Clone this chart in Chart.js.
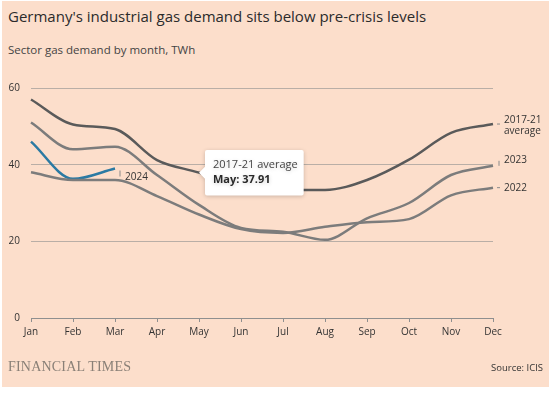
<!DOCTYPE html>
<html>
<head>
<meta charset="utf-8">
<script src="https://cdn.jsdelivr.net/npm/chart.js@4.4.1/dist/chart.umd.min.js"></script>
<style>
  html, body { margin: 0; padding: 0; }
  body {
    width: 554px; height: 393px; overflow: hidden;
    background: #ffffff; position: relative;
    font-family: "Open Sans", "Noto Sans", sans-serif; color: #333;
  }
  #panel { position: absolute; left: 2px; top: 1px; width: 547px; height: 386px; background: #fcdecb; }
  #title { position: absolute; left: 8px; top: 6px; font-size: 15px; color: #2b2b2b; white-space: nowrap; }
  #subtitle { position: absolute; left: 8px; top: 42px; font-size: 11.5px; color: #444; white-space: nowrap; }
  #brand { position: absolute; left: 8px; top: 359px; font-family: "Liberation Serif", serif; font-size: 14px; color: #8a8077; letter-spacing: 0.2px; }
  #source { position: absolute; right: 11px; top: 361px; font-size: 9.5px; color: #333; }
  #wrap { position: absolute; left: 0; top: 0; width: 554px; height: 393px; }
</style>
</head>
<body>
<div id="panel"></div>
<div id="title">Germany's industrial gas demand sits below pre-crisis levels</div>
<div id="subtitle">Sector gas demand by month, TWh</div>
<div id="wrap"><canvas id="gasChart" width="554" height="393"></canvas></div>
<div id="brand">FINANCIAL TIMES</div>
<div id="source">Source: ICIS</div>

<script>
// Dados (TWh por mês)
const months = ['Jan', 'Feb', 'Mar', 'Apr', 'May', 'Jun', 'Jul', 'Aug', 'Sep', 'Oct', 'Nov', 'Dec'];
const avg1721 = [57, 50.5, 49.3, 41.2, 37.91, 34, 33.4, 33.4, 36, 41.3, 48.3, 50.6];
const year2022 = [38, 36, 36, 31.8, 27, 23.2, 22.2, 23.8, 25, 25.8, 32, 34];
const year2023 = [51, 44, 44.7, 37.3, 29.5, 23.5, 22.5, 20.4, 26, 30, 37.3, 39.7];
const year2024 = [46, 36.3, 39];
const yTicks = [0, 20, 40, 60];

// Rótulos no fim das linhas
const endLabels = {
    id: 'endLabels',
    afterDatasetsDraw(chart) {
        const ctx = chart.ctx;
        const y = chart.scales.y;
        const x = chart.scales.x;
        ctx.save();
        ctx.font = '10px "Open Sans", sans-serif';
        ctx.fillStyle = '#333';
        ctx.strokeStyle = '#8a8a8a';
        ctx.lineWidth = 1;
        ctx.textBaseline = 'middle';
        const xr = x.getPixelForValue(11);
        const items = [
            { v: avg1721[11], lines: ['2017-21', 'average'], dy: -4 },
            { v: year2023[11], lines: ['2023'], dy: -6 },
            { v: year2022[11], lines: ['2022'], dy: 0 }
        ];
        items.forEach(it => {
            const py = y.getPixelForValue(it.v);
            ctx.beginPath();
            if (it.dy < -5) {
                ctx.moveTo(xr + 6, py);
                ctx.lineTo(xr + 6, py - 5);
            } else {
                ctx.moveTo(xr + 4, py);
                ctx.lineTo(xr + 7, py);
            }
            ctx.stroke();
            it.lines.forEach((t, i) => ctx.fillText(t, xr + 11, py + it.dy + i * 11));
        });
        // rótulo 2024
        const x24 = x.getPixelForValue(2);
        const y24 = y.getPixelForValue(year2024[2]);
        ctx.beginPath();
        ctx.moveTo(x24 + 5, y24 + 2);
        ctx.lineTo(x24 + 5, y24 + 8);
        ctx.stroke();
        ctx.fillText('2024', x24 + 10, y24 + 9);
        ctx.restore();
    },
    beforeTooltipDraw(chart) {
        const ctx = chart.ctx;
        ctx.save();
        ctx.shadowColor = 'rgba(0,0,0,0.2)';
        ctx.shadowBlur = 4;
        ctx.shadowOffsetY = 1;
    },
    afterTooltipDraw(chart) {
        chart.ctx.restore();
    }
};

const chart = new Chart(document.getElementById('gasChart'), {
    type: 'line',
    data: {
        labels: months,
        datasets: [
            { label: '2017-21 average', data: avg1721, borderColor: '#5a5a5a' },
            { label: '2022', data: year2022, borderColor: '#7c7c7c' },
            { label: '2023', data: year2023, borderColor: '#7c7c7c' },
            { label: '2024', data: year2024, borderColor: '#2b7aa3' }
        ].map(d => Object.assign(d, {
            borderWidth: 2.5,
            pointRadius: 0,
            pointHoverRadius: 0,
            tension: 0.4,
            cubicInterpolationMode: 'monotone',
            fill: false
        }))
    },
    options: {
        responsive: false,
        animation: false,
        events: [],
        layout: { padding: { top: 88, right: 61, bottom: 45, left: 0 } },
        scales: {
            x: {
                offset: false,
                afterFit(s) { s.height = 30; },
                grid: { drawOnChartArea: false, drawTicks: true, tickLength: 4, color: '#8f8f8f' },
                border: { display: true, color: '#8f8f8f', width: 1 },
                ticks: { color: '#333', font: { size: 10, family: '"Open Sans", sans-serif' }, padding: 4, maxRotation: 0, autoSkip: false }
            },
            y: {
                min: 0,
                max: 60,
                afterFit(s) { s.width = 31; },
                afterBuildTicks(s) { s.ticks = yTicks.map(v => ({ value: v })); },
                grid: { color: '#b9aea6', drawTicks: false, lineWidth: 1 },
                border: { display: false },
                ticks: { color: '#333', font: { size: 10, family: '"Open Sans", sans-serif' }, padding: 11 }
            }
        },
        plugins: {
            legend: { display: false },
            tooltip: {
                enabled: true,
                backgroundColor: '#ffffff',
                titleColor: '#444',
                bodyColor: '#2a2a2a',
                titleFont: { size: 11, weight: 'normal', family: '"Open Sans", sans-serif' },
                bodyFont: { size: 11, weight: 'bold', family: '"Open Sans", sans-serif' },
                titleMarginBottom: 2,
                padding: { top: 8, bottom: 9, left: 8, right: 6 },
                caretSize: 6,
                caretPadding: 0,
                cornerRadius: 2,
                displayColors: false,
                xAlign: 'left',
                yAlign: 'center',
                callbacks: {
                    title: items => items[0].dataset.label,
                    label: item => item.label + ': ' + item.raw.toFixed(2)
                }
            }
        }
    },
    plugins: [endLabels]
});

// Mostrar a dica de May como na imagem
const pt = chart.getDatasetMeta(0).data[4];
chart.tooltip.setActiveElements([{ datasetIndex: 0, index: 4 }], { x: pt.x, y: pt.y });
chart.update();
</script>
</body>
</html>
